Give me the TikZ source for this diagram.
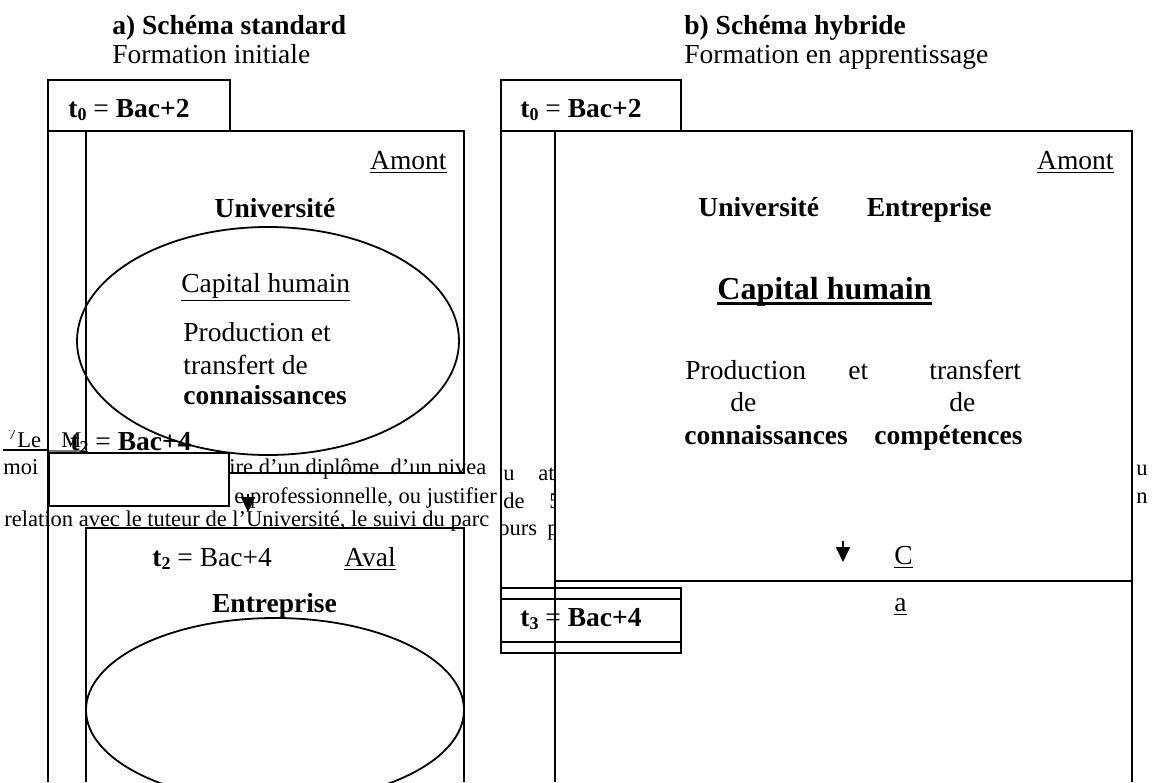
\documentclass[tikz,border=0pt]{standalone}
\usepackage{fontspec}
\setmainfont{Liberation Serif}
\usepackage{tikz}
\usetikzlibrary{arrows.meta,positioning}
\definecolor{traitNoir}{RGB}{0,0,0}
\definecolor{traitGris}{RGB}{120,120,120}
\newcommand{\indice}[1]{\raisebox{-0.3ex}{\fontsize{9}{9}\selectfont\bfseries #1}}
\tikzset{
  cadre/.style={draw=traitNoir, line width=0.9pt},
  cache/.style={cadre, fill=white},
  texte/.style={inner sep=0pt, font=\fontsize{13.75}{16}\selectfont},
  gras/.style={inner sep=0pt, font=\fontsize{13.75}{16}\selectfont\bfseries},
  grand/.style={inner sep=0pt, font=\fontsize{16}{19}\selectfont\bfseries},
  note/.style={inner sep=0pt, font=\fontsize{11.25}{13}\selectfont},
  pointe/.style={-{Triangle[length=7.5pt,width=7pt]}, line width=0.9pt, draw=traitNoir}
}

\begin{document}
\begin{tikzpicture}[x=0.5pt, y=-0.5pt]
  \useasboundingbox (0,0) rectangle (1156,782);
  \clip (0,0) rectangle (1156,782);

  % titres
  \node[gras, anchor=base west] (titreA) at (112,34) {a) Schéma standard};
  \node[texte, anchor=base west] (sousA) at (112,63) {Formation initiale};
  \node[gras, anchor=base west] (titreB) at (684,34) {b) Schéma hybride};
  \node[texte, anchor=base west] (sousB) at (684,63) {Formation en apprentissage};

  % schema standard, amont
  \draw[cadre] (48,80) rectangle (230,131);
  \node[texte, anchor=base west] (tzeroA) at (68,117)
    {\textbf{t}\indice{0} = \textbf{Bac+2}};
  \draw[cadre] (48,131) -- (48,782);
  \draw[cadre] (86,131) rectangle (464,473);
  \node[texte, anchor=base east] (amontA) at (447,169) {\underline{Amont}};
  \node[gras, anchor=base] (univA) at (275,217) {Université};
  \draw[cadre] (268,341) ellipse [x radius=191, y radius=114];
  \node[texte, anchor=base west] (capA) at (181,292) {\underline{Capital humain}};
  \node[texte, anchor=base west] (prodA) at (183,341) {Production et};
  \node[texte, anchor=base west] (transA) at (183,374) {transfert de};
  \node[gras, anchor=base west] (connA) at (183,404) {connaissances};

  % note de bas de page
  \begin{scope}
    \clip (0,430) rectangle (500,545);
    \node[note, anchor=base west] (noteA) at (8,447) {\textsuperscript{7}Le};
    \node[note, anchor=base west] (noteM) at (61,447) {M};
    \node[note, anchor=base west] (noteB) at (3,474) {moi};
    \node[note, anchor=base west] (noteC) at (229,474) {ire d’un diplôme\ \ d’un nivea};
    \node[note, anchor=base west] (noteD) at (234,503) {e professionnelle, ou justifier};
    \node[note, anchor=base west] (noteE) at (4,526)
      {relation avec le tuteur de l’Université, le suivi du parc};
  \end{scope}
  \draw[traitNoir, line width=0.6pt] (3,450) -- (49,450);
  \draw[traitGris, line width=1.4pt] (49,451) -- (86,451);
  \draw[cache] (49,453) rectangle (229,506);
  \node[texte, anchor=base west] (tdeuxA) at (70,450)
    {\textbf{t}\indice{2} = \textbf{Bac+4}};
  \draw[pointe] (248,494) -- (248,512);

  % schema standard, aval
  \draw[cadre] (86,782) -- (86,528) -- (464,528) -- (464,782);
  \node[texte, anchor=base west] (tdeuxB) at (152,566) {\textbf{t}\indice{2} = Bac+4};
  \node[texte, anchor=base west] (avalA) at (344,566) {\underline{Aval}};
  \node[gras, anchor=base] (entA) at (274.5,612) {Entreprise};
  \draw[cadre] (275,710) ellipse [x radius=189, y radius=92];

  % schema hybride
  \draw[cadre] (501,80) rectangle (681,131);
  \node[texte, anchor=base west] (tzeroB) at (520,117)
    {\textbf{t}\indice{0} = \textbf{Bac+2}};
  \draw[cadre] (501,131) -- (501,588);
  \draw[cadre] (555,782) -- (555,131) -- (1132,131) -- (1132,782);
  \draw[cadre] (555,581) -- (1132,581);
  \node[texte, anchor=base east] (amontB) at (1114,169) {\underline{Amont}};
  \node[gras, anchor=base west] (univB) at (698,216) {Université};
  \node[gras, base right=23.5pt of univB] (entB) {Entreprise};
  \node[grand, anchor=base west] (capB) at (717,299) {Capital humain};
  \draw[line width=1.5pt] ([yshift=-2.2pt]capB.base west) -- ([yshift=-2.2pt]capB.base east);
  \node[texte, anchor=base west] (prodB) at (685,379) {Production};
  \node[texte, anchor=base west] (etB) at (848,379) {et};
  \node[texte, anchor=base west] (transB) at (929,379) {transfert};
  \node[texte, anchor=base west] (deB) at (730,411) {de};
  \node[texte, anchor=base west] (deC) at (949,411) {de};
  \node[gras, anchor=base west] (connB) at (684,444) {connaissances};
  \node[gras, anchor=base west] (compB) at (874,444) {compétences};
  \draw[pointe] (843,541) -- (843,562);
  \node[texte, anchor=base west] (lettreC) at (894,564) {\underline{C}};
  \node[texte, anchor=base west] (lettreA) at (894,611) {\underline{a}};

  % note, morceaux visibles
  \begin{scope}
    \clip (501,455) rectangle (555,545);
    \node[note, anchor=base west] (noteF) at (503,480) {u};
    \node[note, anchor=base west] (noteG) at (538,480) {at};
    \node[note, anchor=base west] (noteH) at (503,508) {de};
    \node[note, anchor=base west] (noteI) at (549,508) {5};
    \node[note, anchor=base west] (noteJ) at (498,535) {ours};
    \node[note, anchor=base west] (noteK) at (547,535) {p};
  \end{scope}
  \node[note, anchor=base west] (noteL) at (1136,475) {u};
  \node[note, anchor=base west] (noteN) at (1136,503) {n};

  % t3
  \draw[cache] (501,588) rectangle (681,653);
  \draw[cadre] (501,599) -- (681,599);
  \draw[cadre] (501,642) -- (681,642);
  \node[texte, anchor=base west] (ttroisB) at (520,626)
    {\textbf{t}\indice{3} = \textbf{Bac+4}};
  \draw[cadre] (555,588) -- (555,653);
\end{tikzpicture}
\end{document}
